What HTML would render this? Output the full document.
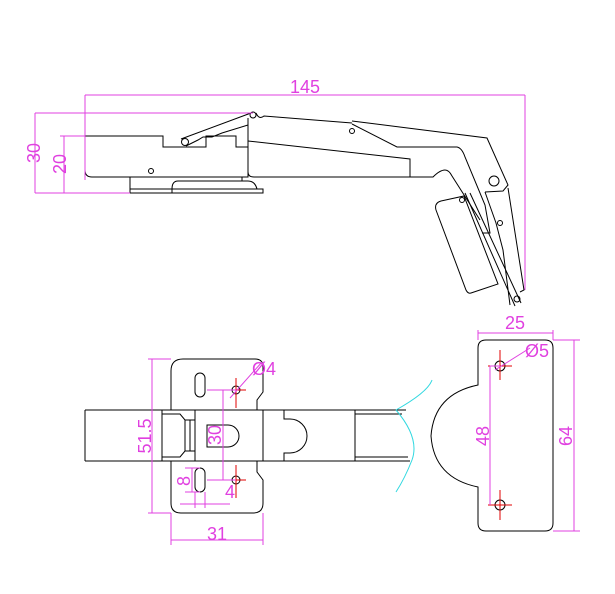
<!DOCTYPE html>
<html><head><meta charset="utf-8"><style>
html,body{margin:0;padding:0;background:#fff;width:615px;height:594px;overflow:hidden}
svg{display:block}
text{font-family:"Liberation Sans",sans-serif;fill:#e040e0}
</style></head><body>
<svg width="615" height="594" viewBox="0 0 615 594" xmlns="http://www.w3.org/2000/svg">
<g fill="none" stroke="#000" stroke-width="1">
<!-- top view base block -->
<path d="M85,136 H163 V147 H206 V136 H236 V147 H248 V177 H92 Q85,177 85,170 Z"/>
<path d="M130,177 V193 H263 V189 H257 Q255,181 248,181 H178 Q172,181 172,189 V193 M130,189 H263 M242,177 V181"/>
<circle cx="151" cy="171" r="2.5"/>
<!-- link -->
<path d="M181,139 L251,113 M186,146 L198,140 L203,137 H212 L222,133 L248,125"/>
<circle cx="185" cy="142" r="3.5"/><circle cx="253" cy="115" r="3"/>
<!-- arm -->
<path d="M256,113 Q259,120 264,116 L352,123 M352,121 L487,138 L508,185 L503,191 L485,192 M508,188 L524,290 L520,292 M248,118 V172 Q248,177 254,177 H433 Q440,170 445,170 Q449,170 452,176 L480,220"/>
<path d="M248,141 L410,159 V177 M352,124 L397,147 L410,147 H457 Q462,148 465,157 L485,205 L490,233 L482,233"/>
<circle cx="352" cy="131" r="2.5"/>
<circle cx="494" cy="181" r="5"/>
<circle cx="500" cy="223" r="2.5"/>
<circle cx="517" cy="299" r="3"/>
<circle cx="462" cy="200" r="2.5"/>
<path d="M465,193 L515,306 M470,193 L521,303 M485,192 L496,223 L503,250 L510,305"/>
<!-- door plate -->
<path d="M441,201 L464,196 L498,284 L471,293 Q468,294 466,290 L436,210 Q434,203 441,201 Z"/>
</g>
<g stroke="#e040e0" stroke-width="1" fill="none">
<path d="M85,95 H525 M85,95 V180 M525,95 V290 M35,113 H253 M35,193 H130 M35,113 V193 M60,136 H85 M64,136 V193 M60,193 H130"/>
</g>
<text x="305" y="93" font-size="18" text-anchor="middle">145</text>
<text transform="translate(40,153) rotate(-90)" font-size="18" text-anchor="middle">30</text>
<text transform="translate(66,164) rotate(-90)" font-size="18" text-anchor="middle">20</text>

<!-- bottom view -->
<g fill="none" stroke="#000" stroke-width="1">
<path d="M85,410 H406 M85,461 H410 M85,410 V461 M162,410 V461 M195,410 V461 M263,410 V461 M355,410 V461 M355,414 H402 M355,457 H408"/>
<path d="M162,414 H180 L185,420 H195 M162,457 H180 L185,451 H195 M185,420 V451 M190,420 V451"/>
<path d="M171,410 V371 Q171,359 183,359 H255 Q263,359 263,367 V392 L257,400 V410 M171,461 V503 Q171,513 181,513 H253 Q263,513 263,503 V480 L257,472 V461"/>
<rect x="195" y="373" width="10" height="24" rx="5"/>
<rect x="195" y="468" width="10" height="24" rx="5"/>
<path d="M207,425 H228 A11,11 0 0 1 228,447 H207 Z"/>
<path d="M284,410 V419 H290 A17,17 0 0 1 290,453 H284 V461"/>
<path d="M478,487 Q434,478 431,436 Q434,394 478,385 V348 Q478,340 486,340 H545 Q553,340 553,348 V523 Q553,531 545,531 H486 Q478,531 478,523 Z"/>
<circle cx="236" cy="390" r="4"/><circle cx="236" cy="480" r="4"/>
<circle cx="500" cy="366" r="5"/><circle cx="500" cy="505" r="5"/>
</g>
<path d="M396,410 Q428,392 432,380 M396,410 Q420,438 412,460 Q405,478 396,492" stroke="#30d8e0" fill="none"/>
<g stroke="#e00000" stroke-width="1">
<path d="M236,378 V408 M226,390 H246 M236,465 V498 M226,480 H246 M500,350 V380 M488,366 H512 M500,490 V520 M488,505 H512"/>
</g>
<g stroke="#e040e0" stroke-width="1" fill="none">
<path d="M152,359 V513 M148,359 H171 M148,513 H171 M171,513 V545 M263,513 V545 M171,540 H263 M223,390 V480 M207,390 H236 M207,480 H236 M192,468 V492 M185,468 H200 M185,492 H200 M180,504 H230 M195,492 V508 M205,492 V508 M478,330 V340 M553,330 V340 M478,333 H553 M553,340 H580 M553,531 H580 M574,340 V531 M490,366 V505 M490,366 H500 M230,398 L262,362 M495,370 L530,348"/>
</g>
<text x="217" y="540" font-size="18" text-anchor="middle">31</text>
<text transform="translate(151,436) rotate(-90)" font-size="18" text-anchor="middle">51.5</text>
<text transform="translate(221,435) rotate(-90)" font-size="18" text-anchor="middle">30</text>
<text transform="translate(190,481) rotate(-90)" font-size="18" text-anchor="middle">8</text>
<text x="230" y="498" font-size="18" text-anchor="middle">4</text>
<text x="264" y="375" font-size="18" text-anchor="middle">Ø4</text>
<text x="515" y="329" font-size="18" text-anchor="middle">25</text>
<text x="537" y="357" font-size="18" text-anchor="middle">Ø5</text>
<text transform="translate(489,436) rotate(-90)" font-size="18" text-anchor="middle">48</text>
<text transform="translate(572,436) rotate(-90)" font-size="18" text-anchor="middle">64</text>
</svg>
</body></html>
